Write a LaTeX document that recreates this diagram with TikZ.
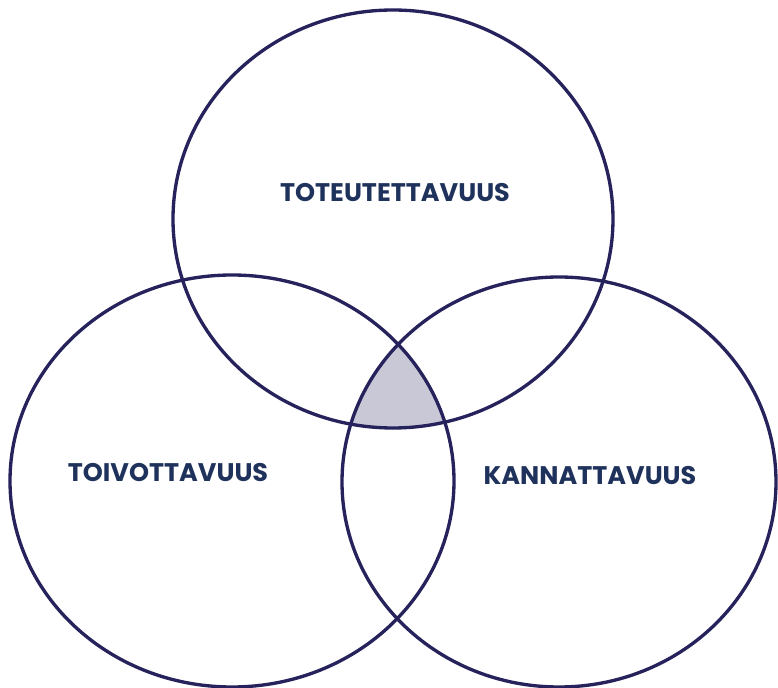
\documentclass[tikz,border=0pt]{standalone}
\usepackage{fontspec}
\setmainfont{Poppins}
\usetikzlibrary{positioning}
\definecolor{colRing}{RGB}{38,34,92}
\definecolor{colText}{RGB}{30,50,92}
\definecolor{colCore}{RGB}{200,200,214}

\begin{document}
\begin{tikzpicture}[
    x=0.02cm, y=-0.02cm,
    ring/.style={draw=colRing, line width=1.9pt},
    lab/.style={font=\fontsize{14.5}{16}\selectfont\bfseries, text=colText}
]
    \useasboundingbox (0,0) rectangle (778,688);

    % shaded common area
    \begin{scope}
        \clip (393,219) ellipse [x radius=220, y radius=209];
        \clip (232,481) ellipse [x radius=222, y radius=206];
        \fill[colCore] (559,482) ellipse [x radius=217, y radius=205];
    \end{scope}

    % the three rings
    \draw[ring] (393,219) ellipse [x radius=220, y radius=209];
    \draw[ring] (232,481) ellipse [x radius=222, y radius=206];
    \draw[ring] (559,482) ellipse [x radius=217, y radius=205];

    \node[lab] (toteu) at (395,193) {TOTEUTETTAVUUS};
    \node[lab] (toivo) at (168,473) {TOIVOTTAVUUS};
    \node[lab] (kanna) at (590,476) {KANNATTAVUUS};
\end{tikzpicture}
\end{document}
